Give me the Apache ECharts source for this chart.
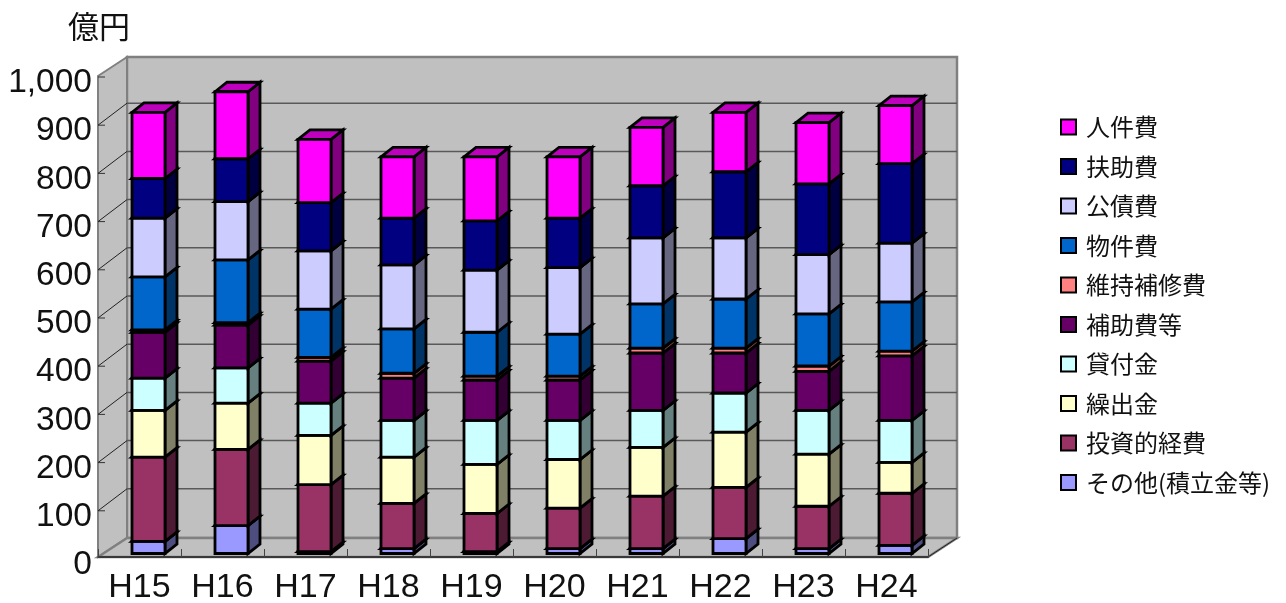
<!DOCTYPE html>
<html><head><meta charset="utf-8">
<style>html,body{margin:0;padding:0;background:#fff}#c{width:1286px;height:603px}</style>
<script src="https://cdn.jsdelivr.net/npm/echarts@6/dist/echarts.min.js"></script>
</head><body><div id="c"></div>
<script>
const categories = ['H15','H16','H17','H18','H19','H20','H21','H22','H23','H24'];
const sonota   = [25,58,4,10,4,10,10,31,10,17];
const toushi   = [175,158,139,94,79,84,109,106,88,108];
const kuridashi= [97,96,102,96,102,101,101,115,108,64];
const kashitsuke=[67,73,67,76,91,81,77,81,91,87];
const hojo     = [95,89,87,88,84,84,119,83,81,134];
const iji      = [5,5,8,10,8,8,10,10,11,10];
const bukken   = [110,130,100,92,91,87,92,102,108,102];
const kousai   = [122,121,121,133,129,138,137,127,123,122];
const fujo     = [82,89,100,97,102,103,108,137,147,165];
const jinken   = [137,139,131,127,133,127,121,123,127,120];
const seriesNames = ['その他(積立金等)','投資的経費','繰出金','貸付金','補助費等','維持補修費','物件費','公債費','扶助費','人件費'];
const seriesValues = [sonota,toushi,kuridashi,kashitsuke,hojo,iji,bukken,kousai,fujo,jinken];
const seriesColors = ['#9999FF','#993366','#FFFFCC','#CCFFFF','#660066','#FF8080','#0066CC','#CCCCFF','#000080','#FF00FF'];
const yMin = 0, yMax = 1000, yStep = 100;
const yTicks = [0,100,200,300,400,500,600,700,800,900,1000];

const WALL_DX = 29, WALL_DY = -19;     // 3D offset of back wall frame
const GRID_DY = -22;                   // value lines on the back wall relative to the front scale
const FLOOR_UP = 2;                    // drawn floor edge above the scale's zero
const BAR_DX = 9, BAR_DY = -5.5;       // bars sit a little inside the floor
const BAR_W = 33, DEPTH_DX = 12, DEPTH_DY = -9.5;
const WALL_FILL = '#C0C0C0', WALL_LINE = '#808080';

function shade(hex, f){
  const n = parseInt(hex.slice(1),16);
  const c = [(n>>16)&255,(n>>8)&255,n&255].map(v=>Math.round(v*f));
  return 'rgb('+c.join(',')+')';
}
function poly(points, fill, stroke, lw){
  return {type:'polygon', shape:{points}, style:{fill, stroke, lineWidth:lw, lineJoin:'miter'}};
}
function seg(x1,y1,x2,y2,stroke,lw){
  return {type:'line',shape:{x1,y1,x2,y2},style:{stroke,lineWidth:lw}};
}
function barSeries(name, i){
  const color = seriesColors[i];
  const data = seriesValues[i].map((v,k)=>{
    let base = 0;
    for(let s=0;s<i;s++) base += seriesValues[s][k];
    return [k, base, base+v];
  });
  return {
    name, type:'custom', xAxisIndex:0, yAxisIndex:0, z:4+i*0.01,
    itemStyle:{color},
    encode:{x:0,y:[1,2]},
    data,
    renderItem(params, api){
      const lo = api.coord([api.value(0), api.value(1)]);
      const hi = api.coord([api.value(0), api.value(2)]);
      const xl = lo[0]+BAR_DX-BAR_W/2, xr = xl+BAR_W;
      const yb = lo[1]+BAR_DY, yt = hi[1]+BAR_DY;
      return {type:'group', children:[
        poly([[xr,yt],[xr+DEPTH_DX,yt+DEPTH_DY],[xr+DEPTH_DX,yb+DEPTH_DY],[xr,yb]], shade(color,0.5), '#000', 2.8),
        poly([[xl,yt],[xl+DEPTH_DX,yt+DEPTH_DY],[xr+DEPTH_DX,yt+DEPTH_DY],[xr,yt]], shade(color,0.75), '#000', 2.8),
        poly([[xl,yt],[xr,yt],[xr,yb],[xl,yb]], color, '#000', 2.8)
      ]};
    }
  };
}
const wallSeries = {
  type:'custom', xAxisIndex:0, yAxisIndex:0, z:1, silent:true,
  data: yTicks.map(t=>[0,t]),
  encode:{y:1},
  renderItem(params, api){
    const g = params.coordSys, t = api.value(1), y = api.coord([0,t])[1];
    const kids = [];
    const L=g.x, R=g.x+g.width, T=g.y-1, B=g.y+g.height-FLOOR_UP;
    if(t===yMin){
      kids.push(poly([[L+WALL_DX,T+WALL_DY],[R+WALL_DX,T+WALL_DY],[R+WALL_DX,B+WALL_DY],[L+WALL_DX,B+WALL_DY]], WALL_FILL, WALL_LINE, 2.5));
      kids.push(poly([[L,T],[L+WALL_DX,T+WALL_DY],[L+WALL_DX,B+WALL_DY],[L,B]], WALL_FILL, WALL_LINE, 2));
      kids.push(poly([[L,B],[L+WALL_DX,B+WALL_DY],[R+WALL_DX,B+WALL_DY],[R,B]], WALL_FILL, WALL_LINE, 2.5));
      kids.push(seg(R,B,R+WALL_DX,B+WALL_DY,'#222',1));
    } else {
      kids.push(seg(L,y,L+7,y,'#333',1));
      if(t<yMax){
        kids.push(seg(L,y,L+WALL_DX,y+GRID_DY,'#222',1));
        kids.push(seg(L+WALL_DX,y+GRID_DY,R+WALL_DX,y+GRID_DY,'#595959',1.5));
      }
    }
    return {type:'group',children:kids};
  }
};
const chart = echarts.init(document.getElementById('c'),null,{renderer:'canvas'});
chart.setOption({
  animation:false,
  backgroundColor:'#fff',
  title:{text:'億円',left:63,top:6,textStyle:{fontFamily:'"Noto Sans CJK JP"',fontSize:31,fontWeight:'normal',color:'#111'}},
  legend:{
    orient:'vertical', left:1055, top:110, selectedMode:false,
    data:seriesNames.slice().reverse(),
    icon:'rect', itemWidth:15, itemHeight:15, itemGap:15.5,
    itemStyle:{borderColor:'#000',borderWidth:2},
    textStyle:{fontFamily:'"Noto Sans CJK JP"',fontSize:24,color:'#111',padding:[0,0,0,5],lineHeight:24}
  },
  tooltip:{show:false},
  grid:[
    {left:98,top:77,width:830,height:482,show:false,outerBoundsMode:'none'},
    {left:98,top:83,width:830,height:482,show:false,outerBoundsMode:'none'}   // carries the value labels, set a little below the ticks
  ],
  xAxis:[
    {type:'category',gridIndex:0,data:categories,z:3,offset:-FLOOR_UP,
     axisLine:{show:true,lineStyle:{color:'#222',width:1.5}},
     axisTick:{show:true,inside:true,length:8,alignWithLabel:false,lineStyle:{color:'#444',width:1}},
     axisLabel:{interval:0,margin:14,fontFamily:'"Liberation Sans"',fontSize:34,color:'#111'}},
    {type:'category',gridIndex:1,data:categories,show:false}
  ],
  yAxis:[
    {type:'value',gridIndex:0,min:yMin,max:yMax,interval:yStep,z:3,
     axisLine:{show:false},axisTick:{show:false},axisLabel:{show:false},splitLine:{show:false}},
    {type:'value',gridIndex:1,min:yMin,max:yMax,interval:yStep,z:3,
     axisLine:{show:false},axisTick:{show:false},splitLine:{show:false},
     axisLabel:{margin:6,fontFamily:'"Liberation Sans"',fontSize:33.5,color:'#111'}}
  ],
  series:[wallSeries].concat(seriesNames.map(barSeries))
});
</script></body></html>
